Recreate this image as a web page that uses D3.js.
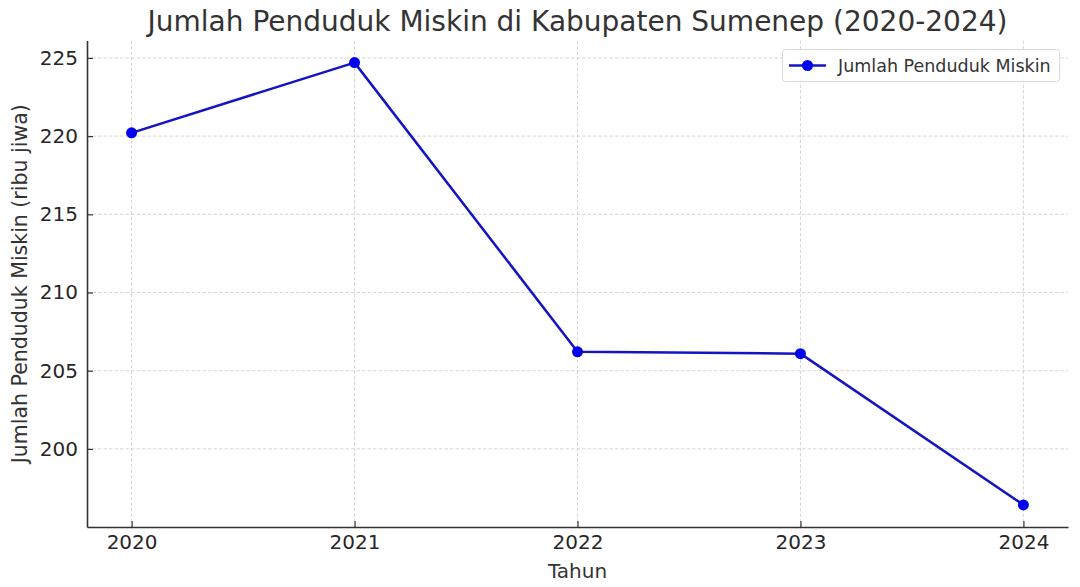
<!DOCTYPE html>
<html>
<head>
<meta charset="utf-8">
<script src="https://cdn.jsdelivr.net/npm/d3@7"></script>
<style>
  html, body { margin: 0; padding: 0; background: #fff; }
  svg { display: block; font-family: "DejaVu Sans", sans-serif; }
</style>
</head>
<body>
<svg id="chart" width="1080" height="587"></svg>
<script>
const years = [2020, 2021, 2022, 2023, 2024];
const values = [220.21, 224.70, 206.21, 206.09, 196.42];
const yTicks = [200, 205, 210, 215, 220, 225];
const titleText = "Jumlah Penduduk Miskin di Kabupaten Sumenep (2020-2024)";
const xLabel = "Tahun";
const yLabel = "Jumlah Penduduk Miskin (ribu jiwa)";
const seriesName = "Jumlah Penduduk Miskin";

(function () {
const svg = d3.select("#chart");
const pL = 87, pR = 1068, pT = 40.5, pB = 527;
const textColor = "#333333";
const lineColor = "#1414c4";
const markColor = "#0000ee";

const xPad = (d3.max(years) - d3.min(years)) * 0.05;
const x = d3.scaleLinear()
  .domain([d3.min(years) - xPad, d3.max(years) + xPad])
  .range([pL, pR]);
const yMin = d3.min(values), yMax = d3.max(values);
const yPad = (yMax - yMin) * 0.05;
const y = d3.scaleLinear()
  .domain([yMin - yPad, yMax + yPad])
  .range([pB, pT]);

// grid
const grid = svg.append("g");
grid.selectAll("line.gx").data(years).enter().append("line")
  .attr("x1", d => x(d)).attr("x2", d => x(d))
  .attr("y1", pT).attr("y2", pB)
  .attr("stroke", "#cccccc").attr("stroke-width", 0.8).attr("stroke-dasharray", "3.5,2");
grid.selectAll("line.gy").data(yTicks).enter().append("line")
  .attr("x1", pL).attr("x2", pR)
  .attr("y1", d => y(d)).attr("y2", d => y(d))
  .attr("stroke", "#cccccc").attr("stroke-width", 0.8).attr("stroke-dasharray", "3.5,2");

// axes
const xAxis = d3.axisBottom(x).tickValues(years).tickFormat(d3.format("d"))
  .tickSizeInner(-6).tickSizeOuter(0).tickPadding(8);
const gx = svg.append("g").attr("transform", `translate(0,${pB})`).call(xAxis);
gx.select(".domain").attr("stroke", textColor).attr("stroke-width", 1.6);
gx.selectAll(".tick line").attr("stroke", textColor).attr("stroke-width", 1.2);
gx.selectAll(".tick text").attr("fill", "#262626").attr("font-size", 20)
  .attr("font-family", "DejaVu Sans");

const yAxis = d3.axisLeft(y).tickValues(yTicks).tickFormat(d3.format("d"))
  .tickSizeInner(-6).tickSizeOuter(0).tickPadding(9);
const gy = svg.append("g").attr("transform", `translate(${pL},0)`).call(yAxis);
gy.select(".domain").attr("stroke", textColor).attr("stroke-width", 1.6);
gy.selectAll(".tick line").attr("stroke", textColor).attr("stroke-width", 1.2);
gy.selectAll(".tick text").attr("fill", "#262626").attr("font-size", 20)
  .attr("font-family", "DejaVu Sans");

// line
const data = years.map((yr, i) => ({ yr, v: values[i] }));
const lineGen = d3.line().x(d => x(d.yr)).y(d => y(d.v));
svg.append("path").datum(data)
  .attr("d", lineGen)
  .attr("fill", "none").attr("stroke", lineColor).attr("stroke-width", 2.5)
  .attr("stroke-linejoin", "round");
svg.selectAll("circle.pt").data(data).enter().append("circle")
  .attr("cx", d => x(d.yr)).attr("cy", d => y(d.v)).attr("r", 5.5)
  .attr("fill", markColor);

// title and labels
svg.append("text").attr("x", (pL + pR) / 2).attr("y", 31)
  .attr("text-anchor", "middle").attr("font-size", 28).attr("fill", textColor)
  .text(titleText);
svg.append("text").attr("x", (pL + pR) / 2).attr("y", 578)
  .attr("text-anchor", "middle").attr("font-size", 20).attr("fill", textColor)
  .text(xLabel);
svg.append("text")
  .attr("transform", `translate(27,${(pT + pB) / 2}) rotate(-90)`)
  .attr("text-anchor", "middle").attr("font-size", 20.5).attr("fill", textColor)
  .text(yLabel);

// legend
const lg = svg.append("g");
lg.append("rect").attr("x", 782.5).attr("y", 49.5).attr("width", 277).attr("height", 32)
  .attr("rx", 3).attr("fill", "#ffffff").attr("fill-opacity", 0.85)
  .attr("stroke", "#d8d8d8").attr("stroke-width", 1);
lg.append("line").attr("x1", 789).attr("x2", 826).attr("y1", 65.5).attr("y2", 65.5)
  .attr("stroke", lineColor).attr("stroke-width", 2.5);
lg.append("circle").attr("cx", 807.5).attr("cy", 65.5).attr("r", 5.5).attr("fill", markColor);
lg.append("text").attr("x", 838).attr("y", 71.5).attr("font-size", 17.5).attr("fill", textColor)
  .text(seriesName);
})();
</script>
</body>
</html>
